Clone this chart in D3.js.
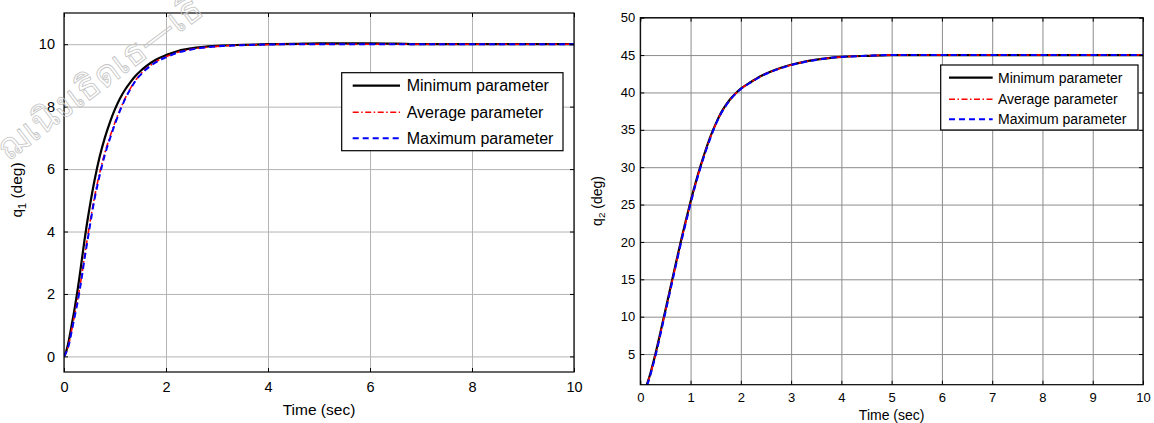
<!DOCTYPE html>
<html>
<head>
<meta charset="utf-8">
<script src="https://cdn.jsdelivr.net/npm/d3@7"></script>
<style>
  html, body { margin: 0; padding: 0; background: #fff; }
  svg { display: block; font-family: "Liberation Sans", Arial, sans-serif; }
</style>
</head>
<body>
<svg id="chart" width="1154" height="423"></svg>
<script>
// ---------------- data ----------------
const seriesNames = ["Minimum parameter", "Average parameter", "Maximum parameter"];

const tQ1 = [0,0.05,0.1,0.15,0.2,0.25,0.3,0.35,0.4,0.45,0.5,0.6,0.7,0.8,0.9,1.0,1.1,1.2,1.3,1.4,1.5,1.6,1.8,2.0,2.25,2.5,3.0,3.5,4.0,4.5,5.0,5.5,6.0,6.5,7.0,8.0,9.0,10.0];
const q1Min = [0,0.2,0.55,1.0,1.45,1.95,2.5,3.1,3.7,4.25,4.75,5.65,6.4,7.0,7.5,7.92,8.27,8.55,8.78,8.98,9.14,9.28,9.5,9.65,9.79,9.87,9.95,9.98,10.0,10.01,10.03,10.03,10.03,10.02,10.0,10.0,10.0,10.0];
const q1Avg = [0,0.16,0.44,0.84,1.26,1.68,2.12,2.62,3.18,3.7,4.2,5.12,5.88,6.52,7.03,7.5,7.91,8.27,8.58,8.84,9.04,9.2,9.44,9.6,9.75,9.84,9.93,9.97,9.99,10,10,10,10,10,10,10,10,10];
const q1Max = [0,0.15,0.4,0.8,1.2,1.6,2.05,2.55,3.1,3.6,4.1,5.05,5.8,6.45,6.97,7.45,7.88,8.25,8.56,8.82,9.02,9.18,9.42,9.58,9.74,9.83,9.93,9.97,9.99,10,10,10,10,10,10,10,10,10];

const tQ2 = [0,0.1,0.15,0.2,0.3,0.4,0.5,0.6,0.7,0.8,0.9,1.0,1.1,1.2,1.3,1.4,1.5,1.6,1.7,1.8,1.9,2.0,2.2,2.4,2.6,2.8,3.0,3.25,3.5,3.75,4.0,4.5,5.0,6.0,7.0,8.0,9.0,10.0];
const q2Min = [0,0.4,1.3,2.4,5.0,7.9,10.9,13.9,16.9,19.9,22.7,25.4,27.9,30.2,32.3,34.2,35.8,37.2,38.3,39.2,39.9,40.5,41.4,42.2,42.8,43.3,43.7,44.1,44.4,44.6,44.75,44.9,45,45,45,45,45,45];
const q2Avg = [0,0.35,1.2,2.3,4.85,7.75,10.75,13.75,16.75,19.75,22.55,25.25,27.8,30.1,32.2,34.1,35.75,37.15,38.25,39.15,39.88,40.48,41.38,42.18,42.78,43.28,43.68,44.08,44.38,44.6,44.75,44.9,45,45,45,45,45,45];
const q2Max = [0,0.3,1.1,2.2,4.7,7.6,10.6,13.6,16.6,19.6,22.4,25.1,27.7,30.0,32.1,34.0,35.7,37.1,38.2,39.1,39.85,40.45,41.35,42.15,42.75,43.25,43.65,44.05,44.35,44.6,44.75,44.9,45,45,45,45,45,45];

const xTicksQ1 = [0,2,4,6,8,10];
const yTicksQ1 = [0,2,4,6,8,10];
const xTicksQ2 = [0,1,2,3,4,5,6,7,8,9,10];
const yTicksQ2 = [5,10,15,20,25,30,35,40,45,50];

const watermarkText = "ฌเนิงเธิดเธ—เธิ";

// ---------------- styles ----------------
const styles = [
  {color: "#000000", width: 2.2, dash: null},
  {color: "#ff0000", width: 1.6, dash: "6,2.5,1.5,2.5"},
  {color: "#0000ff", width: 2.0, dash: "6,4"}
];

const svg = d3.select("#chart");

function drawPanel(cfg) {
  const g = svg.append("g");
  const x = d3.scaleLinear().domain(cfg.xDomain).range([cfg.x0, cfg.x1]);
  const y = d3.scaleLinear().domain(cfg.yDomain).range([cfg.y1, cfg.y0]);
  const w = cfg.x1 - cfg.x0, h = cfg.y1 - cfg.y0;

  // grid
  g.append("g").attr("transform", `translate(0,${cfg.y1})`)
    .call(d3.axisBottom(x).tickValues(cfg.xTicks).tickSize(-h).tickFormat(""))
    .call(a => a.select(".domain").remove())
    .call(a => a.selectAll("line").attr("stroke", cfg.gridColor).attr("stroke-width", 1));
  g.append("g").attr("transform", `translate(${cfg.x0},0)`)
    .call(d3.axisLeft(y).tickValues(cfg.yTicks).tickSize(-w).tickFormat(""))
    .call(a => a.select(".domain").remove())
    .call(a => a.selectAll("line").attr("stroke", cfg.gridColor).attr("stroke-width", 1));

  // clip
  const clipId = "clip" + cfg.id;
  svg.append("clipPath").attr("id", clipId).append("rect")
    .attr("x", cfg.x0).attr("y", cfg.y0).attr("width", w).attr("height", h);

  const line = d3.line().x(d => x(d[0])).y(d => y(d[1])).curve(d3.curveMonotoneX);
  const lg = g.append("g").attr("clip-path", `url(#${clipId})`);
  cfg.series.forEach((s, i) => {
    const st = styles[i];
    lg.append("path")
      .datum(cfg.t.map((t, k) => [t, s[k]]))
      .attr("d", line)
      .attr("fill", "none")
      .attr("stroke", st.color)
      .attr("stroke-width", st.width)
      .attr("stroke-dasharray", st.dash);
  });

  // axes with inward ticks
  const tick = 4;
  const bottom = g.append("g").attr("transform", `translate(0,${cfg.y1})`)
    .call(d3.axisBottom(x).tickValues(cfg.xTicks).tickSizeInner(-tick).tickSizeOuter(0).tickPadding(cfg.xPad));
  const top = g.append("g").attr("transform", `translate(0,${cfg.y0})`)
    .call(d3.axisTop(x).tickValues(cfg.xTicks).tickSizeInner(-tick).tickSizeOuter(0).tickFormat(""));
  const left = g.append("g").attr("transform", `translate(${cfg.x0},0)`)
    .call(d3.axisLeft(y).tickValues(cfg.yTicks).tickSizeInner(-tick).tickSizeOuter(0).tickPadding(cfg.yPad));
  const right = g.append("g").attr("transform", `translate(${cfg.x1},0)`)
    .call(d3.axisRight(y).tickValues(cfg.yTicks).tickSizeInner(-tick).tickSizeOuter(0).tickFormat(""));
  [bottom, top, left, right].forEach(a => {
    a.select(".domain").remove();
    a.selectAll("line").attr("stroke", "#000");
    a.selectAll("text").attr("fill", "#000").attr("font-size", cfg.tickFont)
      .attr("font-family", "Liberation Sans, Arial, sans-serif");
  });

  // box
  g.append("rect").attr("x", cfg.x0).attr("y", cfg.y0).attr("width", w).attr("height", h)
    .attr("fill", "none").attr("stroke", "#000").attr("stroke-width", 1.2);

  // x label
  g.append("text").attr("x", (cfg.x0 + cfg.x1) / 2).attr("y", cfg.xLabelY)
    .attr("text-anchor", "middle").attr("font-size", cfg.labelFont).text("Time (sec)");

  // y label
  const yl = g.append("text")
    .attr("transform", `translate(${cfg.yLabelX},${cfg.yLabelY}) rotate(-90)`)
    .attr("text-anchor", "middle").attr("font-size", cfg.labelFont);
  yl.append("tspan").text("q");
  yl.append("tspan").attr("dy", "0.35em").attr("font-size", cfg.labelFont * 0.7).text(cfg.sub);
  yl.append("tspan").attr("dy", "-0.25em").text(" (deg)");

  // legend
  const L = cfg.legend;
  g.append("rect").attr("x", L.x0).attr("y", L.y0).attr("width", L.x1 - L.x0).attr("height", L.y1 - L.y0)
    .attr("fill", "#fff").attr("stroke", "#000").attr("stroke-width", 1.2);
  seriesNames.forEach((name, i) => {
    const st = styles[i];
    const yy = L.rows[i];
    g.append("line").attr("x1", L.lx0).attr("x2", L.lx1).attr("y1", yy).attr("y2", yy)
      .attr("stroke", st.color).attr("stroke-width", st.width).attr("stroke-dasharray", st.dash);
    g.append("text").attr("x", L.tx).attr("y", yy).attr("dy", "0.36em")
      .attr("font-size", L.font).text(name);
  });
}

drawPanel({
  id: "a", x0: 64, x1: 574, y0: 13, y1: 372,
  xDomain: [0, 10], yDomain: [-0.5, 11],
  xTicks: xTicksQ1, yTicks: yTicksQ1,
  gridColor: "#b4b4b4",
  t: tQ1, series: [q1Min, q1Avg, q1Max],
  xPad: 10, yPad: 9, tickFont: 14.5, labelFont: 15.5,
  xLabelY: 415, yLabelX: 22, yLabelY: 190, sub: "1",
  legend: {x0: 341.7, x1: 563, y0: 72.7, y1: 150.7, rows: [85.7, 112.3, 138.3],
           lx0: 352.7, lx1: 400, tx: 406.7, font: 16}
});

drawPanel({
  id: "b", x0: 640.3, x1: 1143, y0: 17.7, y1: 384.7,
  xDomain: [0, 10], yDomain: [0.9, 50],
  xTicks: xTicksQ2, yTicks: yTicksQ2,
  gridColor: "#8c8c8c",
  t: tQ2, series: [q2Min, q2Avg, q2Max],
  xPad: 8.5, yPad: 5, tickFont: 13, labelFont: 14,
  xLabelY: 420, yLabelX: 602, yLabelY: 201, sub: "2",
  legend: {x0: 940.7, x1: 1138, y0: 65, y1: 130, rows: [77.7, 99.3, 119.3],
           lx0: 949, lx1: 992.7, tx: 998, font: 14}
});

// watermark
svg.append("text")
  .attr("transform", "translate(8,162) rotate(-37)")
  .attr("font-size", 36)
  .attr("font-family", "Noto Sans, sans-serif")
  .attr("fill", "none").attr("stroke", "#c4c4c4").attr("stroke-width", 0.8)
  .text(watermarkText);
</script>
</body>
</html>
